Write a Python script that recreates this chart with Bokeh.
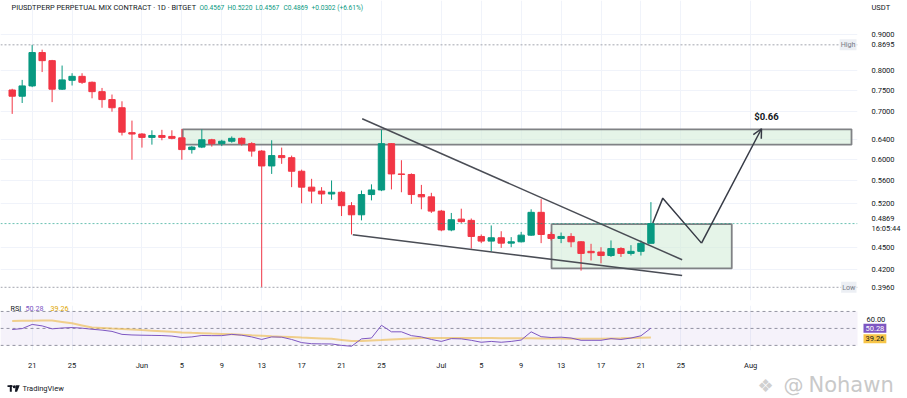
import pandas as pd
from bokeh.plotting import figure
from bokeh.layouts import column, row
from bokeh.models import (Range1d, FixedTicker, CustomJSTickFormatter,
                          Span, BoxAnnotation, Label, Arrow, OpenHead, ColumnDataSource, Grid)
from bokeh.embed import file_html
from bokeh.resources import INLINE

# ---------------- data ----------------
dates = pd.date_range("2025-05-19", periods=65, freq="D")
open_ = [0.751, 0.736, 0.761, 0.848, 0.826, 0.753, 0.775, 0.785, 0.770, 0.747,
         0.728, 0.709, 0.654, 0.651, 0.644, 0.648, 0.646, 0.643, 0.619, 0.624,
         0.639, 0.631, 0.636, 0.642, 0.631, 0.616, 0.587, 0.607, 0.603, 0.577,
         0.548, 0.541, 0.536, 0.539, 0.516, 0.501, 0.535, 0.543, 0.631, 0.572,
         0.571, 0.535, 0.531, 0.507, 0.477, 0.494, 0.492, 0.467, 0.460, 0.465,
         0.457, 0.459, 0.469, 0.505, 0.470, 0.464, 0.467, 0.459, 0.445, 0.444,
         0.439, 0.449, 0.442, 0.445, 0.4567]
high = [0.754, 0.776, 0.8695, 0.856, 0.828, 0.813, 0.793, 0.793, 0.772, 0.756,
        0.740, 0.724, 0.680, 0.653, 0.659, 0.660, 0.659, 0.662, 0.626, 0.661,
        0.641, 0.639, 0.646, 0.644, 0.634, 0.618, 0.638, 0.623, 0.607, 0.580,
        0.563, 0.548, 0.560, 0.541, 0.522, 0.542, 0.553, 0.660, 0.632, 0.598,
        0.573, 0.552, 0.538, 0.509, 0.504, 0.511, 0.495, 0.470, 0.484, 0.475,
        0.466, 0.474, 0.510, 0.527, 0.474, 0.473, 0.472, 0.460, 0.456, 0.451,
        0.461, 0.451, 0.454, 0.461, 0.5220]
low = [0.695, 0.720, 0.758, 0.796, 0.722, 0.751, 0.762, 0.766, 0.731, 0.709,
       0.700, 0.648, 0.599, 0.623, 0.629, 0.638, 0.640, 0.599, 0.611, 0.622,
       0.625, 0.626, 0.633, 0.627, 0.605, 0.396, 0.572, 0.591, 0.548, 0.520,
       0.520, 0.519, 0.526, 0.499, 0.470, 0.492, 0.525, 0.541, 0.544, 0.539,
       0.519, 0.510, 0.504, 0.475, 0.475, 0.488, 0.449, 0.457, 0.445, 0.450,
       0.451, 0.458, 0.468, 0.457, 0.461, 0.457, 0.451, 0.418, 0.432, 0.428,
       0.437, 0.437, 0.439, 0.439, 0.4567]
close = [0.736, 0.761, 0.848, 0.826, 0.753, 0.776, 0.785, 0.770, 0.747, 0.728,
         0.709, 0.655, 0.651, 0.644, 0.648, 0.644, 0.642, 0.619, 0.624, 0.639,
         0.631, 0.636, 0.642, 0.631, 0.616, 0.587, 0.607, 0.603, 0.577, 0.548,
         0.541, 0.536, 0.539, 0.516, 0.501, 0.535, 0.543, 0.631, 0.572, 0.571,
         0.535, 0.531, 0.507, 0.477, 0.493, 0.490, 0.467, 0.460, 0.465, 0.457,
         0.459, 0.469, 0.505, 0.470, 0.464, 0.467, 0.459, 0.442, 0.443, 0.439,
         0.449, 0.442, 0.445, 0.4567, 0.4869]
rsi = [48.7, 49.8, 54.7, 53.0, 49.5, 50.5, 51.0, 50.3, 49.0, 48.0,
       46.5, 43.0, 42.3, 42.0, 41.8, 41.6, 41.0, 39.3, 40.0, 41.7,
       41.5, 41.5, 43.0, 42.0, 40.0, 37.0, 40.0, 39.7, 37.0, 33.3,
       32.0, 31.8, 31.7, 30.0, 29.0, 37.7, 38.7, 53.7, 46.0, 46.0,
       41.5, 40.0, 37.0, 34.7, 38.0, 37.7, 36.0, 33.7, 34.7, 33.7,
       34.7, 36.3, 46.0, 40.3, 39.3, 39.7, 38.7, 36.0, 36.0, 36.0,
       38.0, 37.0, 38.7, 41.3, 50.28]
rsi_ma = [58.7, 58.9, 59.0, 59.2, 59.3, 57.7, 56.0, 53.5, 51.0, 50.4,
          49.8, 49.3, 48.7, 48.0, 47.4, 46.7, 46.0, 45.3, 44.8, 44.4,
          43.9, 43.5, 43.0, 42.5, 41.9, 41.4, 40.8, 40.3, 39.8, 39.2,
          38.7, 38.2, 37.7, 36.5, 35.3, 35.3, 35.8, 36.3, 36.9, 37.5,
          38.1, 38.7, 38.7, 38.7, 38.7, 38.7, 38.6, 38.6, 38.6, 38.5,
          38.5, 38.4, 38.3, 38.2, 38.1, 38.0, 37.9, 37.8, 37.7, 37.9,
          38.2, 38.4, 38.7, 39.0, 39.26]

price_ticks = [0.42, 0.45, 0.52, 0.56, 0.60, 0.64, 0.70, 0.75, 0.80, 0.90]
rsi_scale_tick = 60
rsi_bands = [70, 50, 30]
date_ticks = ["2025-05-21", "2025-05-25", "2025-06-01", "2025-06-05", "2025-06-09",
              "2025-06-13", "2025-06-17", "2025-06-21", "2025-06-25", "2025-07-01",
              "2025-07-05", "2025-07-09", "2025-07-13", "2025-07-17", "2025-07-21",
              "2025-07-25", "2025-08-01"]

# drawn zones (resistance, consolidation)
zone_start = ["2025-06-05 02:10", "2025-07-12 01:00"]
zone_end = ["2025-08-11 02:24", "2025-07-30 02:24"]
zone_top = [0.661, 0.486]
zone_bottom = [0.629, 0.421]
# falling wedge trend lines
upper_x = ["2025-06-23 01:40", "2025-07-25 03:07"]
upper_y = [0.684, 0.433]
lower_x = ["2025-06-22 03:07", "2025-07-25 03:07"]
lower_y = [0.4696, 0.4116]
# projected path
path_x = ["2025-07-22 04:34", "2025-07-23 04:34", "2025-07-27 01:41", "2025-08-02 01:55"]
path_y = [0.4877, 0.5288, 0.4570, 0.6623]
target_label = "$0.66"
high_value, low_value, last_value = 0.8695, 0.3960, 0.4869
countdown = "16:05:44"
unit_label, unit_level = "USDT", 0.9815
rsi_value, rsi_ma_value = 50.28, 39.26
header_title = "PIUSDTPERP PERPETUAL MIX CONTRACT · 1D · BITGET"
header_values = ["O0.4567", "H0.5220", "L0.4567", "C0.4869", "+0.0302 (+6.61%)"]

# ---------------- helpers ----------------
def ms(s):
    return pd.Timestamp(s).value / 1e6

GREEN = "#089981"
RED = "#f23645"
PURPLE = "#7e57c2"
YELLOW = "#f7c548"
TEXT = "#131722"
GRID = "#f0f3fa"
FONT = "Roboto"
FS = "7.2px"

PLOT_W = 857          # width of the price frame (px); the price scale sits to its right
xr = Range1d(start=ms("2025-05-17 19:52"), end=ms("2025-08-11 16:48"))
ms_per_px = (xr.end - xr.start) / PLOT_W
tick_ms = [ms(d) for d in date_ticks]


def slabel(fig, x, y, text, yunits="screen", **kw):
    """Label with x in screen units (origin at frame left)."""
    opts = dict(text_baseline="middle", text_font=FONT, text_font_size=FS, text_color=TEXT)
    opts.update(kw)
    fig.add_layout(Label(x=x, y=y, x_units="screen", y_units=yunits, text=text, **opts))


def style_axis(a, size="7.5px"):
    a.axis_line_color = None
    a.major_tick_line_color = None
    a.minor_tick_line_color = None
    a.major_label_text_font_size = size
    a.major_label_text_font = FONT
    a.major_label_text_color = TEXT


# ---------------- price pane ----------------
p = figure(width=907, height=303, x_axis_type="datetime", y_axis_type="log",
           x_range=xr, y_range=Range1d(0.3794, 1.00396), y_axis_location="right",
           x_axis_location=None, output_backend="svg", toolbar_location=None,
           min_border_left=0, min_border_right=907 - PLOT_W, min_border_top=0,
           min_border_bottom=3)
p.outline_line_color = None
for g in p.xgrid:
    g.visible = False
p.add_layout(Grid(dimension=0, ticker=FixedTicker(ticks=tick_ms), grid_line_color=GRID))
p.ygrid[0].ticker = FixedTicker(ticks=price_ticks)
p.ygrid.grid_line_color = GRID
ax = p.yaxis[0]
ax.ticker = FixedTicker(ticks=price_ticks + [high_value, low_value, last_value, unit_level])
ax.formatter = CustomJSTickFormatter(
    args=dict(unit=unit_level, unit_label=unit_label, last=last_value, cd=countdown),
    code="""
if (Math.abs(tick - unit) < 1e-9) return unit_label;
if (Math.abs(tick - last) < 1e-9) return tick.toFixed(4) + "\\n" + cd;
return tick.toFixed(4);
""")
style_axis(ax)
ax.major_label_standoff = 8

# zones
p.quad(left=[ms(s) for s in zone_start], right=[ms(s) for s in zone_end],
       top=zone_top, bottom=zone_bottom, fill_color="#d4ecd8", fill_alpha=0.6,
       line_color="#808285", line_width=1.8)

# candles
colors = [GREEN if c >= o else RED for o, c in zip(open_, close)]
src = ColumnDataSource(dict(x=dates, o=open_, h=high, l=low, c=close, color=colors,
                            top=[max(o, c) for o, c in zip(open_, close)],
                            bottom=[min(o, c) for o, c in zip(open_, close)]))
p.segment(x0="x", y0="l", x1="x", y1="h", line_color="color", line_width=1, source=src)
p.vbar(x="x", width=0.64 * 86400000, top="top", bottom="bottom", fill_color="color",
       line_color="color", line_width=1, source=src)

# reference lines
p.add_layout(Span(location=high_value, dimension="width", line_color="#a3a6af",
                  line_dash="2 2", line_width=1))
p.add_layout(Span(location=low_value, dimension="width", line_color="#a3a6af",
                  line_dash="2 2", line_width=1))
p.add_layout(Span(location=last_value, dimension="width", line_color=GREEN,
                  line_alpha=0.6, line_dash="2 2", line_width=1))

# wedge lines and projection
p.line([ms(s) for s in upper_x], upper_y, line_color="#4a4d55", line_width=1.5)
p.line([ms(s) for s in lower_x], lower_y, line_color="#4a4d55", line_width=1.5)
p.line([ms(s) for s in path_x[:3]], path_y[:3], line_color="#363a45", line_width=1.5)
p.add_layout(Arrow(end=OpenHead(size=9, line_color="#363a45", line_width=1.5),
                   x_start=ms(path_x[2]), y_start=path_y[2],
                   x_end=ms(path_x[3]), y_end=path_y[3],
                   line_color="#363a45", line_width=1.5))
p.add_layout(Label(x=ms("2025-08-02 13:55"), y=0.689, text=target_label,
                   text_align="center", text_baseline="middle", text_font=FONT,
                   text_font_style="bold", text_font_size="9.5px", text_color=TEXT))

# header (frame spans page y 0..300)
slabel(p, 11, 293, header_title, text_font_size="7.4px")
for t, xs in zip(header_values, [199, 227, 255, 283, 311]):
    slabel(p, xs, 293, t, text_color=GREEN, text_font_size="6.6px")

# High / Low tags (left part of the price-scale tags)
slabel(p, 856, high_value, "High", yunits="data", text_align="right", text_color="#787b86",
       background_fill_color="#eceff4", padding=1)
slabel(p, 856, low_value, "Low", yunits="data", text_align="right", text_color="#787b86",
       background_fill_color="#eceff4", padding=1)

# ---------------- RSI pane (frame spans the full width; same px-per-day) ----------------
xr_rsi = Range1d(start=xr.start, end=xr.start + 907 * ms_per_px)
r = figure(width=907, height=69, x_axis_type="datetime", x_range=xr_rsi,
           y_range=Range1d(24, 77), y_axis_location=None,
           output_backend="svg", toolbar_location=None,
           min_border_left=0, min_border_right=0, min_border_top=2, min_border_bottom=14)
r.outline_line_color = None
r.ygrid.visible = False
r.xgrid.ticker = FixedTicker(ticks=tick_ms)
r.xgrid.grid_line_color = GRID
xa = r.xaxis[0]
xa.ticker = FixedTicker(ticks=tick_ms)
xa.formatter = CustomJSTickFormatter(code="""
const d = new Date(tick);
const m = ["Jan","Feb","Mar","Apr","May","Jun","Jul","Aug","Sep","Oct","Nov","Dec"];
return d.getUTCDate() === 1 ? m[d.getUTCMonth()] : String(d.getUTCDate());
""")
style_axis(xa)
xa.major_label_standoff = 4

r.add_layout(BoxAnnotation(left=xr.start, right=xr.end, bottom=rsi_bands[2], top=rsi_bands[0],
                           fill_color=PURPLE, fill_alpha=0.08, line_alpha=0))
r.segment(x0=[xr.start] * 3, x1=[xr.end] * 3, y0=rsi_bands, y1=rsi_bands,
          line_color="#9598a1", line_dash="3 3", line_width=1)
r.line(dates, rsi_ma, line_color=YELLOW, line_width=2, line_alpha=0.65)
r.line(dates, rsi, line_color=PURPLE, line_width=1)

# RSI legend (frame spans page y 305..358)
slabel(r, 10, 358 - 316, "RSI")
slabel(r, 25, 358 - 316, "%.2f" % rsi_value, text_color=PURPLE)
slabel(r, 50, 358 - 316, "%.2f" % rsi_ma_value, text_color="#e0a800")
# RSI scale and value tags
slabel(r, 866, rsi_scale_tick, "%.2f" % rsi_scale_tick, yunits="data",
       text_font_size="7.5px")
slabel(r, 863, rsi_value, "%.2f" % rsi_value, yunits="data", text_color="white",
       text_font_size="7.5px", background_fill_color=PURPLE, padding=2)
slabel(r, 863, rsi_ma_value - 1.5, "%.2f" % rsi_ma_value, yunits="data",
       text_font_size="7.5px", background_fill_color=YELLOW, padding=2)

# ---------------- footer (branding / watermark), page y 372..398 ----------------
f = figure(width=907, height=26, x_range=Range1d(0, 907), y_range=Range1d(0, 26),
           x_axis_location=None, y_axis_location=None, output_backend="svg",
           toolbar_location=None, min_border=0)
f.outline_line_color = None
f.xgrid.visible = False
f.ygrid.visible = False
# small TradingView logo
f.quad(left=[7, 9.3], right=[12, 11.3], bottom=[11.4, 6.8], top=[13.2, 13.2],
       fill_color=TEXT, line_color=None)
f.scatter([13.8], [11.8], size=3, fill_color=TEXT, line_color=None)
f.patch([15.2, 19.2, 16.6, 14.4], [13.2, 13.2, 6.8, 6.8], fill_color=TEXT, line_color=None)
slabel(f, 22, 10, "TradingView", text_font_size="7.5px")
slabel(f, 757, 13, "❖", text_font="DejaVu Sans", text_font_size="18px",
       text_color="#d0d0d0")
slabel(f, 783, 14, "@", text_font="DejaVu Sans", text_font_size="20px",
       text_color="#c9c9c9")
slabel(f, 808, 14, "Nohawn", text_font="DejaVu Sans", text_font_size="21px",
       text_color="#c9c9c9")

# separate rows so the panes keep their own borders (no frame alignment)
layout = column(row(p), row(r), row(f), spacing=0)
open("out.html", "w").write(file_html(layout, INLINE))
